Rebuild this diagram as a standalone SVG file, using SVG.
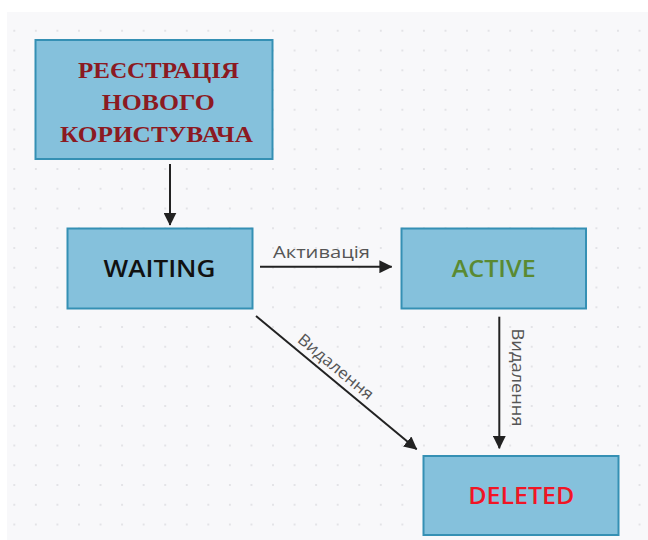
<svg xmlns="http://www.w3.org/2000/svg" width="648" height="540" viewBox="0 0 648 540">
  <style>
    .node { fill: #85c1dc; stroke: #3590b4; stroke-width: 2; }
    .edge { stroke: #222222; stroke-width: 2; fill: none; }
    .elabel { font-family: "Open Sans", "Noto Sans", sans-serif; font-size: 16px; fill: #555555; }
    .ntext { font-family: "Open Sans", "Noto Sans", sans-serif; font-size: 23px; font-weight: 600; text-anchor: middle; }
    .title { font-family: "Liberation Serif", "Times New Roman", serif; font-size: 24px; font-weight: bold; fill: #8b1a22; text-anchor: middle; }
  </style>
  <defs>
    <pattern id="dots" patternUnits="userSpaceOnUse" x="3.52" y="1.125" width="21.56" height="19.75">
      <circle cx="10.78" cy="9.875" r="1.1" fill="#dfdfe3"/>
    </pattern>
    <marker id="arrow" viewBox="0 0 10 10" refX="9.5" refY="5" markerUnits="userSpaceOnUse" markerWidth="13" markerHeight="13" orient="auto">
      <path d="M0,0 L10,5 L0,10 z" fill="#222222"/>
    </marker>
  </defs>
  <rect x="0" y="0" width="648" height="540" fill="#ffffff"/>
  <rect x="7" y="12" width="641" height="528" fill="#f8f8fa"/>
  <rect x="7" y="12" width="641" height="528" fill="url(#dots)"/>

  <g id="connectors">
    <line class="edge" x1="170" y1="164" x2="170" y2="225" marker-end="url(#arrow)"/>
    <line class="edge" x1="260" y1="266.7" x2="391.7" y2="266.7" marker-end="url(#arrow)"/>
    <text class="elabel" x="321.5" y="257.5" text-anchor="middle" textLength="97" lengthAdjust="spacingAndGlyphs">Активація</text>
    <line class="edge" x1="256" y1="316" x2="416.7" y2="449.3" marker-end="url(#arrow)"/>
    <text class="elabel" text-anchor="middle" transform="translate(332.3,370.9) rotate(39.7)" textLength="93" lengthAdjust="spacingAndGlyphs">Видалення</text>
    <line class="edge" x1="499.3" y1="316.7" x2="499.3" y2="448.3" marker-end="url(#arrow)"/>
    <text class="elabel" text-anchor="middle" transform="translate(511.5,377.5) rotate(90)" textLength="98" lengthAdjust="spacingAndGlyphs">Видалення</text>
  </g>

  <g id="registration">
    <rect class="node" x="35.5" y="40" width="237" height="119"/>
    <text class="title" x="158.5" y="77.5" textLength="161" lengthAdjust="spacingAndGlyphs">РЕЄСТРАЦІЯ</text>
    <text class="title" x="158.3" y="110" textLength="113" lengthAdjust="spacingAndGlyphs">НОВОГО</text>
    <text class="title" x="156.5" y="141.7" textLength="193" lengthAdjust="spacingAndGlyphs">КОРИСТУВАЧА</text>
  </g>

  <g id="waiting">
    <rect class="node" x="67.5" y="228.5" width="185" height="80"/>
    <text class="ntext" x="159.5" y="276.7" fill="#111111" textLength="112" lengthAdjust="spacingAndGlyphs">WAITING</text>
  </g>

  <g id="active">
    <rect class="node" x="401.5" y="228.5" width="184.5" height="80"/>
    <text class="ntext" x="493.7" y="276.7" fill="#5a8a32" textLength="84" lengthAdjust="spacingAndGlyphs">ACTIVE</text>
  </g>

  <g id="deleted">
    <rect class="node" x="423.5" y="456" width="195" height="79"/>
    <text class="ntext" x="521.3" y="504.3" fill="#f01525" textLength="106" lengthAdjust="spacingAndGlyphs">DELETED</text>
  </g>
</svg>
